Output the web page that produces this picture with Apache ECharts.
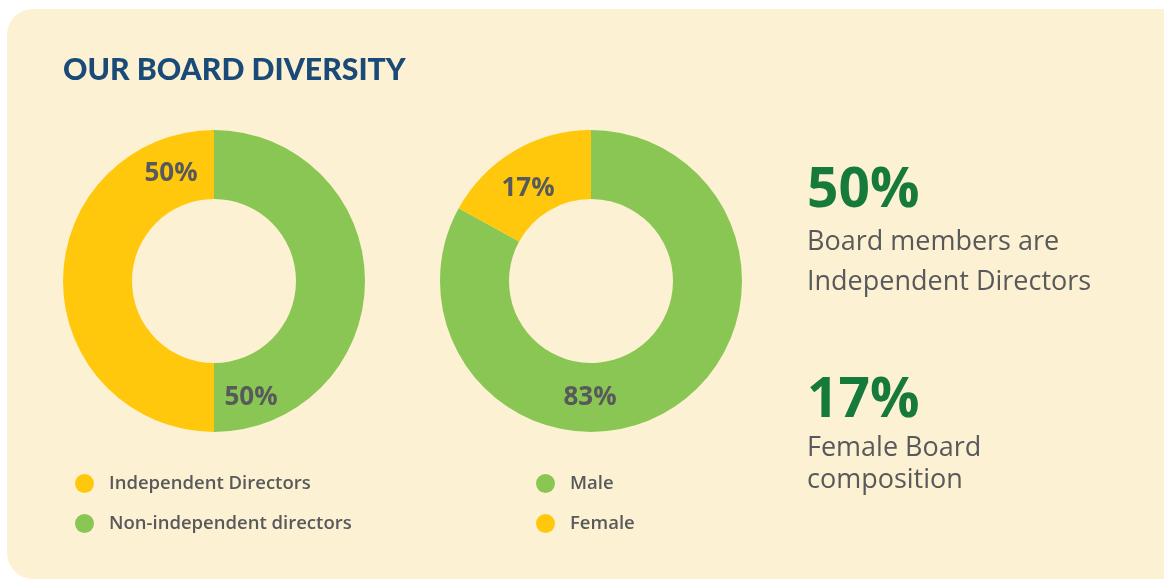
<!DOCTYPE html>
<html><head><meta charset="utf-8">
<script src="https://cdn.jsdelivr.net/npm/echarts@6/dist/echarts.min.js"></script>
<style>html,body{margin:0;padding:0;background:#fff}#c{width:1164px;height:580px}</style>
</head><body><div id="c"></div>
<script>
const titleText = 'OUR BOARD DIVERSITY';
const leftNames = ['Non-independent directors', 'Independent Directors'];
const leftValues = [50, 50];
const leftLegendOrder = ['Independent Directors', 'Non-independent directors'];
const rightNames = ['Male', 'Female'];
const rightValues = [83, 17];
const rightLegendOrder = ['Male', 'Female'];
const statValues = ['50%', '17%'];
const statCaptions = ['Board members are\nIndependent Directors', 'Female Board\ncomposition'];

const GREEN = '#8AC653', YELLOW = '#FFC80C', GRAY = '#58595B';
const leftColors = [GREEN, YELLOW];
const rightColors = [GREEN, YELLOW];
// label anchor positions (pixels) for each slice label
const leftLabelPos = [[251, 398], [171, 174]];
const rightLabelPos = [[590, 398], [528, 189]];

const chart = echarts.init(document.getElementById('c'), null, {renderer: 'canvas'});
function pieSeries(names, values, colors, center, labelPos) {
  return {
    type: 'pie', center: center, radius: [82, 151], startAngle: 90, clockwise: true,
    silent: true, animation: false,
    data: names.map((n, i) => ({name: n, value: values[i], itemStyle: {color: colors[i]}})),
    label: {show: true, position: 'inside', formatter: p => p.value + '%',
      fontFamily: 'Open Sans', fontWeight: 'bold', fontSize: 26, color: GRAY},
    labelLine: {show: false},
    labelLayout: p => ({x: labelPos[p.dataIndex][0], y: labelPos[p.dataIndex][1], align: 'center', verticalAlign: 'middle'}),
    emphasis: {disabled: true}
  };
}
const legendCommon = {orient: 'vertical', icon: 'circle', itemWidth: 19, itemHeight: 19, itemGap: 21,
  textStyle: {fontFamily: 'Open Sans', fontWeight: 600, fontSize: 18.5, color: GRAY, padding: [0, 0, 0, 10]},
  selectedMode: false};
chart.setOption({
  backgroundColor: '#ffffff',
  graphic: [
    {type: 'rect', z: -10, shape: {x: 7, y: 9, width: 1190, height: 570, r: 26}, style: {fill: '#FDF1D3'}},
    {type: 'text', left: 63, top: 55, style: {text: titleText, fontFamily: 'Lato', fontWeight: 900, fontSize: 30.2, fill: '#1A4A78'}},
    {type: 'text', left: 807, top: 164, style: {text: statValues[0], fontFamily: 'Open Sans', fontWeight: 'bold', fontSize: 55, fill: '#167A3A'}},
    {type: 'text', left: 807, top: 222, style: {text: statCaptions[0], fontFamily: 'Open Sans', fontSize: 27, lineHeight: 40, fill: GRAY}},
    {type: 'text', left: 807, top: 374, style: {text: statValues[1], fontFamily: 'Open Sans', fontWeight: 'bold', fontSize: 55, fill: '#167A3A'}},
    {type: 'text', left: 807, top: 432, style: {text: statCaptions[1], fontFamily: 'Open Sans', fontSize: 27, lineHeight: 32, fill: GRAY}}
  ],
  legend: [
    Object.assign({}, legendCommon, {left: 70, top: 469, data: leftLegendOrder}),
    Object.assign({}, legendCommon, {left: 531, top: 469, data: rightLegendOrder})
  ],
  series: [
    pieSeries(leftNames, leftValues, leftColors, [214, 281], leftLabelPos),
    pieSeries(rightNames, rightValues, rightColors, [591, 281], rightLabelPos)
  ]
});
</script></body></html>
